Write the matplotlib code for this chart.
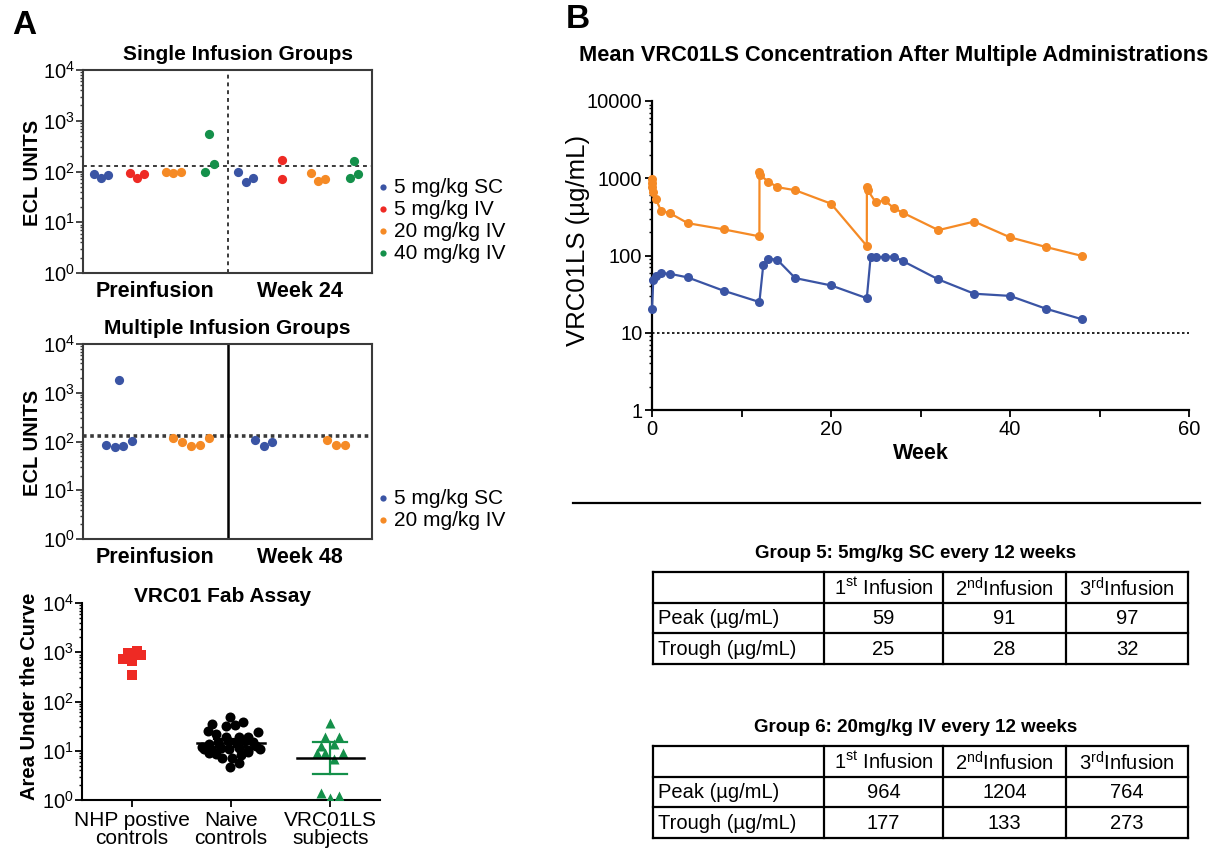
import numpy as np
import matplotlib
matplotlib.use('Agg')
import matplotlib.pyplot as plt
from matplotlib.ticker import LogLocator, NullFormatter, FixedLocator, FixedFormatter

plt.rcParams['font.family'] = ['Liberation Sans', 'DejaVu Sans']
plt.rcParams['mathtext.fontset'] = 'custom'
plt.rcParams['mathtext.rm'] = 'Liberation Sans'
plt.rcParams['mathtext.it'] = 'Liberation Sans:italic'
plt.rcParams['mathtext.bf'] = 'Liberation Sans:bold'

# ---------------- DATA ----------------
# Panel A, single infusion groups (ECL units)
single_groups = ['5 mg/kg SC', '5 mg/kg IV', '20 mg/kg IV', '40 mg/kg IV']
single_pre = [[90, 74, 86], [94, 74, 90], [99, 93, 99], [97, 550, 139]]
single_wk24 = [[99, 63, 76], [168, 72], [94, 66, 70], [76, 160, 89]]
single_cutoff = 131
single_xlabels = ['Preinfusion', 'Week 24']

# Panel A, multiple infusion groups
multi_groups = ['5 mg/kg SC', '20 mg/kg IV']
multi_pre = [[86, 76, 1860, 82, 102], [118, 96, 82, 85, 116]]
multi_wk48 = [[106, 82, 99], [106, 83, 83]]
multi_cutoff = 132
multi_xlabels = ['Preinfusion', 'Week 48']

# Panel A, VRC01 Fab assay (AUC)
fab_categories = ['NHP postive\ncontrols', 'Naive\ncontrols', 'VRC01LS\nsubjects']
fab_nhp = [980, 1070, 890, 735, 650, 347]
fab_naive = [49, 32, 33, 39, 35, 25, 22, 19, 19, 19, 24, 12, 13.5, 15, 16, 15, 15.5, 15,
             11, 11, 10.5, 11.5, 11, 11.5, 10.5, 12.5, 9, 8.5, 7, 7.2, 8.3, 9.6, 4.7, 5.6]
fab_vrc = [37, 19.4, 19.4, 12.5, 13.7, 8.9, 8.9, 8.9, 6.7, 1.37, 1.08, 1.2]

# Panel B, mean concentration
weeks_g6 = [0, 0.01, 0.03, 0.14, 0.43, 1, 2, 4, 8, 12, 12.01, 12.1, 13, 14, 16, 20,
            24, 24.01, 24.1, 25, 26, 27, 28, 32, 36, 40, 44, 48]
conc_g6 = [964, 880, 780, 660, 540, 380, 353, 262, 218, 177, 1204, 1090, 906, 767, 700, 469,
           133, 764, 700, 488, 517, 412, 359, 213, 275, 172, 129, 99]
weeks_g5 = [0, 0.14, 0.43, 1, 2, 4, 8, 12, 12.43, 13, 14, 16, 20, 24, 24.43, 25, 26, 27, 28,
            32, 36, 40, 44, 48]
conc_g5 = [20, 48, 55, 59, 58, 52, 35, 25, 75, 91, 88, 51, 41, 28, 97, 95, 96, 97, 85,
           49, 32, 30, 20.5, 15]
lloq = 10

# Tables
infusion_headers = ['1$^{\\mathrm{st}}$ Infusion', '2$^{\\mathrm{nd}}$Infusion', '3$^{\\mathrm{rd}}$Infusion']
row_labels = ['Peak (\u00b5g/mL)', 'Trough (\u00b5g/mL)']
g5_title = 'Group 5: 5mg/kg SC every 12 weeks'
g5_peak = [59, 91, 97]
g5_trough = [25, 28, 32]
g6_title = 'Group 6: 20mg/kg IV every 12 weeks'
g6_peak = [964, 1204, 764]
g6_trough = [177, 133, 273]

# ---------------- STYLE / LAYOUT ----------------
BLUE = '#3A54A4'
RED = '#EE2A24'
ORANGE = '#F58A25'
GREEN = '#14904A'
single_colors = [BLUE, RED, ORANGE, GREEN]
multi_colors = [BLUE, ORANGE]
FRAME = '#3a3a3a'

W, H = 1232, 849
fig = plt.figure(figsize=(W / 100, H / 100), dpi=100)

def px_rect(x0, y0, x1, y1):
    return [x0 / W, 1 - y1 / H, (x1 - x0) / W, (y1 - y0) / H]

def fx(x):
    return x / W

def fy(y):
    return 1 - y / H

ov = fig.add_axes([0, 0, 1, 1])
ov.set_xlim(0, W)
ov.set_ylim(H, 0)
ov.axis('off')

decade_labels = ['10$^{0}$', '10$^{1}$', '10$^{2}$', '10$^{3}$', '10$^{4}$']

def style_log_y(ax, fs=14.5):
    ax.set_yscale('log')
    ax.set_ylim(1, 1e4)
    ax.yaxis.set_major_locator(FixedLocator([1, 10, 100, 1000, 10000]))
    ax.yaxis.set_major_formatter(FixedFormatter(decade_labels))
    ax.yaxis.set_minor_locator(LogLocator(base=10, subs=np.arange(2, 10), numticks=20))
    ax.yaxis.set_minor_formatter(NullFormatter())
    ax.tick_params(axis='y', which='major', length=5, width=1.3, labelsize=fs, pad=1, color=FRAME)
    ax.tick_params(axis='y', which='minor', length=2.5, width=1.0, color=FRAME)

# Offsets within each group (layout only)
single_offsets_pre = [[-0.2, 0, 0.2], [-0.2, 0, 0.2], [-0.2, 0, 0.2], [-0.12, 0, 0.13]]
single_offsets_wk = [[-0.2, 0, 0.2], [0, 0], [-0.2, 0, 0.2], [-0.12, 0, 0.12]]
multi_offsets_pre = [[-0.36, -0.12, 0, 0.12, 0.37], [-0.5, -0.25, 0, 0.24, 0.48]]
multi_offsets_wk = [[-0.24, 0, 0.24], [-0.245, 0, 0.245]]
MS = 44

# ---- Panel A top ----
ax1 = fig.add_axes(px_rect(83, 70, 372, 273))
style_log_y(ax1)
ax1.set_xlim(0, 8)
for i, (vals, offs) in enumerate(zip(single_pre, single_offsets_pre)):
    ax1.scatter([0.5 + i + o for o in offs], vals, s=MS, color=single_colors[i], zorder=3, linewidths=0)
for i, (vals, offs) in enumerate(zip(single_wk24, single_offsets_wk)):
    ax1.scatter([4.5 + i + o for o in offs], vals, s=MS, color=single_colors[i], zorder=3, linewidths=0)
ax1.axhline(single_cutoff, color=FRAME, ls=(0, (2, 2)), lw=1.4)
ax1.axvline(4, color=FRAME, ls=(0, (2, 2)), lw=1.4)
ax1.set_xticks([2, 6])
ax1.set_xticklabels(single_xlabels, fontsize=15.5, fontweight='bold')
ax1.tick_params(axis='x', length=0, pad=6)
for sp in ax1.spines.values():
    sp.set_color(FRAME)
    sp.set_linewidth(1.5)
fig.text(fx(238), fy(55), 'Single Infusion Groups', fontsize=15, fontweight='bold', ha='center', va='center')
fig.text(fx(32), fy(173), 'ECL UNITS', fontsize=14.5, fontweight='bold', ha='center', va='center', rotation=90)
leg_y = [187, 209, 231, 253]
for lbl, c, y in zip(single_groups, single_colors, leg_y):
    ov.plot([383], [y], 'o', color=c, ms=4.5, mec='none')
    ov.text(394, y, lbl, fontsize=15, ha='left', va='center')

# ---- Panel A middle ----
ax2 = fig.add_axes(px_rect(83, 344, 372, 539))
style_log_y(ax2)
ax2.set_xlim(0, 8)
for i, (vals, offs) in enumerate(zip(multi_pre, multi_offsets_pre)):
    ax2.scatter([1 + 2 * i + o for o in offs], vals, s=MS, color=multi_colors[i], zorder=3, linewidths=0)
for i, (vals, offs) in enumerate(zip(multi_wk48, multi_offsets_wk)):
    ax2.scatter([5 + 2 * i + o for o in offs], vals, s=MS, color=multi_colors[i], zorder=3, linewidths=0)
ax2.axhline(multi_cutoff, color=FRAME, ls=(0, (1, 1)), lw=2.6)
ax2.axvline(4, color='black', lw=1.8)
ax2.set_xticks([2, 6])
ax2.set_xticklabels(multi_xlabels, fontsize=15.5, fontweight='bold')
ax2.tick_params(axis='x', length=0, pad=6)
for sp in ax2.spines.values():
    sp.set_color(FRAME)
    sp.set_linewidth(1.5)
fig.text(fx(227), fy(329), 'Multiple Infusion Groups', fontsize=15, fontweight='bold', ha='center', va='center')
fig.text(fx(32), fy(443), 'ECL UNITS', fontsize=14.5, fontweight='bold', ha='center', va='center', rotation=90)
for lbl, c, y in zip(multi_groups, multi_colors, [498, 520]):
    ov.plot([383], [y], 'o', color=c, ms=4.5, mec='none')
    ov.text(394, y, lbl, fontsize=15, ha='left', va='center')

# ---- Panel A bottom ----
ax3 = fig.add_axes(px_rect(82, 603, 380, 800))
style_log_y(ax3)
ax3.tick_params(axis='y', which='both', color='black')
ax3.set_xlim(-0.5, 2.5)
nhp_off = [-0.04, 0.05, 0.09, -0.085, 0.0, 0.0]
naive_off = [-0.007, -0.05, 0.04, 0.124, -0.19, -0.23, -0.15, -0.05, 0.084, 0.175, 0.276,
             -0.29, -0.22, -0.13, -0.03, 0.05, 0.14, 0.225, 0.296, -0.27, -0.19, -0.1, -0.017,
             0.084, 0.175, 0.256, -0.22, -0.15, -0.09, 0.013, 0.1, 0.175, -0.007, 0.084]
vrc_off = [0, -0.05, 0.09, -0.09, 0.04, -0.13, -0.05, 0.13, 0.04, -0.09, 0, 0.09]
ax3.scatter([0 + o for o in nhp_off], fab_nhp, marker='s', s=50, color=RED, linewidths=0, zorder=3)
ax3.scatter([1 + o for o in naive_off], fab_naive, marker='o', s=52, color='black', linewidths=0, zorder=3)
ax3.scatter([2 + o for o in vrc_off], fab_vrc, marker='^', s=52, color=GREEN, linewidths=0, zorder=3)

def tcrit(df, z=1.959964):
    return z + (z**3 + z) / (4 * df) + (5 * z**5 + 16 * z**3 + 3 * z) / (96 * df**2)

def geo_ci(vals):
    lv = np.log10(vals)
    m = lv.mean()
    se = lv.std(ddof=1) / np.sqrt(len(lv))
    t = tcrit(len(lv) - 1)
    return 10**m, 10**(m - t * se), 10**(m + t * se)

for xc, vals, ecol in [(1, fab_naive, 'black'), (2, fab_vrc, GREEN)]:
    gm, lo, hi = geo_ci(vals)
    ax3.plot([xc - 0.34, xc + 0.34], [gm, gm], color='black', lw=1.8, zorder=4)
    ax3.plot([xc, xc], [lo, hi], color=ecol, lw=1.6, zorder=2)
    ax3.plot([xc - 0.17, xc + 0.17], [lo, lo], color=ecol, lw=1.6, zorder=2)
    ax3.plot([xc - 0.17, xc + 0.17], [hi, hi], color=ecol, lw=1.6, zorder=2)
ax3.set_xticks([0, 1, 2])
ax3.set_xticklabels(fab_categories, fontsize=15, linespacing=0.95)
ax3.tick_params(axis='x', length=5, width=1.3, pad=3)
ax3.spines['top'].set_visible(False)
ax3.spines['right'].set_visible(False)
ax3.spines['left'].set_linewidth(1.5)
ax3.spines['bottom'].set_linewidth(1.5)
fig.text(fx(222), fy(597), 'VRC01 Fab Assay', fontsize=15, fontweight='bold', ha='center', va='center')
fig.text(fx(30), fy(696), 'Area Under the Curve', fontsize=14.5, fontweight='bold', ha='center', va='center', rotation=90)

# ---- Panel B ----
axb = fig.add_axes(px_rect(652, 101, 1189, 410))
axb.set_yscale('log')
axb.set_ylim(1, 1e4)
axb.set_xlim(0, 60)
axb.plot(weeks_g6, conc_g6, '-o', color=ORANGE, lw=1.6, ms=6.5, mec='none', clip_on=False, zorder=3)
axb.plot(weeks_g5, conc_g5, '-o', color=BLUE, lw=1.6, ms=6.5, mec='none', clip_on=False, zorder=3)
axb.axhline(lloq, color='black', ls=(0, (1.5, 1.5)), lw=1.2)
axb.yaxis.set_major_locator(FixedLocator([1, 10, 100, 1000, 10000]))
axb.yaxis.set_major_formatter(FixedFormatter(['1', '10', '100', '1000', '10000']))
axb.yaxis.set_minor_locator(LogLocator(base=10, subs=np.arange(2, 10), numticks=20))
axb.yaxis.set_minor_formatter(NullFormatter())
axb.set_xticks([0, 20, 40, 60])
axb.set_xticks([10, 30, 50], minor=True)
axb.tick_params(axis='both', which='major', length=5, width=1.3, labelsize=14.5, pad=2)
axb.tick_params(axis='y', which='minor', length=2.5, width=1.0)
axb.tick_params(axis='x', which='minor', length=5, width=1.3)
axb.spines['top'].set_visible(False)
axb.spines['right'].set_visible(False)
axb.spines['left'].set_linewidth(1.6)
axb.spines['bottom'].set_linewidth(1.6)
axb.set_xlabel('Week', fontsize=15.5, fontweight='bold', labelpad=3)
fig.text(fx(578), fy(240), 'VRC01LS (\u00b5g/mL)', fontsize=18.5, ha='center', va='center', rotation=90)
fig.text(fx(894), fy(55), 'Mean VRC01LS Concentration After Multiple Administrations',
         fontsize=15.7, fontweight='bold', ha='center', va='center')

# Panel labels
fig.text(fx(24), fy(26), 'A', fontsize=24, fontweight='bold', ha='center', va='center')
fig.text(fx(578), fy(19), 'B', fontsize=24, fontweight='bold', ha='center', va='center')

# Separator
ov.plot([573, 1200], [503, 503], color='black', lw=1.6)

# ---- Tables ----
cols = [653, 824, 943, 1066, 1188]

def draw_table(top, title, peaks, troughs):
    rows = [top, top + 31, top + 61, top + 92]
    for y in rows:
        ov.plot([cols[0], cols[-1]], [y, y], color='black', lw=1.6, solid_capstyle='projecting')
    for x in cols:
        ov.plot([x, x], [rows[0], rows[-1]], color='black', lw=1.6, solid_capstyle='projecting')
    ov.text((cols[0] + cols[-1]) / 2 - 5, top - 19, title, fontsize=13.5, fontweight='bold',
            ha='center', va='center')
    centers_y = [(rows[i] + rows[i + 1]) / 2 for i in range(3)]
    for j, hdr in enumerate(infusion_headers):
        ov.text((cols[j + 1] + cols[j + 2]) / 2, centers_y[0] + 1, hdr, fontsize=14.5, ha='center', va='center')
    for r, (lbl, vals) in enumerate(zip(row_labels, [peaks, troughs])):
        ov.text(cols[0] + 5, centers_y[r + 1] + 1, lbl, fontsize=14.5, ha='left', va='center')
        for j, v in enumerate(vals):
            ov.text((cols[j + 1] + cols[j + 2]) / 2, centers_y[r + 1] + 1, str(v), fontsize=14.5,
                    ha='center', va='center')

draw_table(572, g5_title, g5_peak, g5_trough)
draw_table(746, g6_title, g6_peak, g6_trough)

fig.savefig('out.png', dpi=100)
